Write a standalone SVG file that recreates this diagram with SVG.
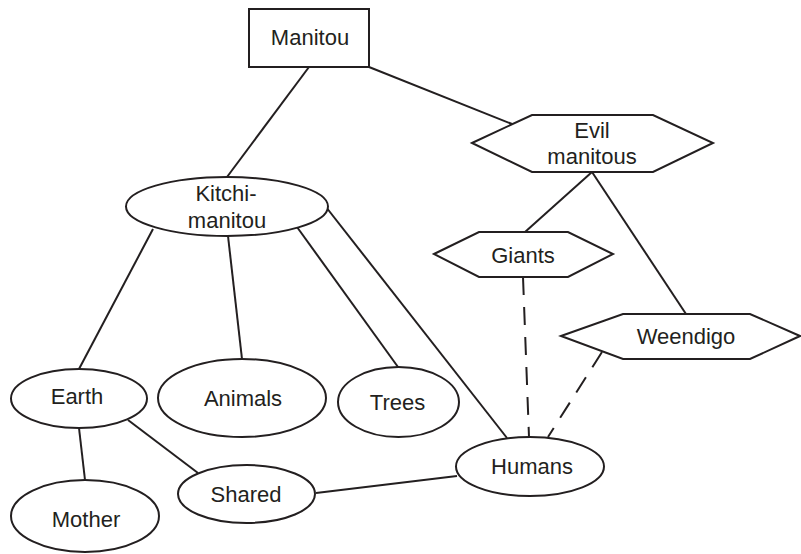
<svg xmlns="http://www.w3.org/2000/svg" width="801" height="554" viewBox="0 0 801 554">
  <style>
    .shape { fill: #ffffff; stroke: #231f20; stroke-width: 2; }
    .edge { stroke: #231f20; stroke-width: 2; fill: none; }
    .dashed { stroke-dasharray: 18 12; }
    text { font-family: "Liberation Sans", Arial, sans-serif; font-size: 22px; fill: #231f20; text-anchor: middle; }
  </style>
  <rect width="801" height="554" fill="#ffffff"/>

  <g id="connectors">
    <line class="edge" x1="309" y1="67" x2="227" y2="177"/>
    <line class="edge" x1="369" y1="67" x2="512" y2="124"/>
    <line class="edge" x1="592" y1="172" x2="525" y2="232"/>
    <line class="edge" x1="592" y1="172" x2="686" y2="314"/>
    <line class="edge" x1="153" y1="229" x2="79" y2="369"/>
    <line class="edge" x1="228" y1="236" x2="242" y2="359"/>
    <line class="edge" x1="297" y1="227" x2="398" y2="367"/>
    <line class="edge" x1="326" y1="207" x2="507" y2="438"/>
    <line class="edge" x1="79" y1="428" x2="85" y2="480"/>
    <line class="edge" x1="128" y1="420" x2="198" y2="473"/>
    <line class="edge" x1="316" y1="493" x2="457" y2="476"/>
    <line class="edge dashed" x1="523" y1="277" x2="529" y2="437"/>
    <line class="edge dashed" x1="602" y1="352" x2="548" y2="437"/>
  </g>

  <g id="manitou">
    <rect class="shape" x="249" y="9" width="120" height="58"/>
    <text x="310" y="45">Manitou</text>
  </g>

  <g id="evil-manitous">
    <polygon class="shape" points="472,143 532,115 653,115 713,143 653,172 532,172"/>
    <text x="592" y="138">Evil</text>
    <text x="592" y="164">manitous</text>
  </g>

  <g id="kitchi-manitou">
    <ellipse class="shape" cx="227" cy="206.5" rx="101" ry="29.5"/>
    <text x="226" y="201">Kitchi-</text>
    <text x="227" y="228">manitou</text>
  </g>

  <g id="giants">
    <polygon class="shape" points="434,254 479,232 568,232 613,254 568,277 479,277"/>
    <text x="523" y="263">Giants</text>
  </g>

  <g id="weendigo">
    <polygon class="shape" points="561,336 623,314 750,314 800,336 750,359 623,359"/>
    <text x="686" y="344">Weendigo</text>
  </g>

  <g id="earth">
    <ellipse class="shape" cx="79" cy="398.5" rx="68" ry="29.5"/>
    <text x="77" y="404">Earth</text>
  </g>

  <g id="animals">
    <ellipse class="shape" cx="242" cy="398" rx="84" ry="39"/>
    <text x="243" y="406">Animals</text>
  </g>

  <g id="trees">
    <ellipse class="shape" cx="398.5" cy="402" rx="60.5" ry="35"/>
    <text x="397.5" y="410">Trees</text>
  </g>

  <g id="mother">
    <ellipse class="shape" cx="85" cy="516" rx="74" ry="36"/>
    <text x="86" y="527">Mother</text>
  </g>

  <g id="shared">
    <ellipse class="shape" cx="246.5" cy="494" rx="68.5" ry="29"/>
    <text x="246" y="502">Shared</text>
  </g>

  <g id="humans">
    <ellipse class="shape" cx="530" cy="466.5" rx="74" ry="29.5"/>
    <text x="532" y="474">Humans</text>
  </g>
</svg>
